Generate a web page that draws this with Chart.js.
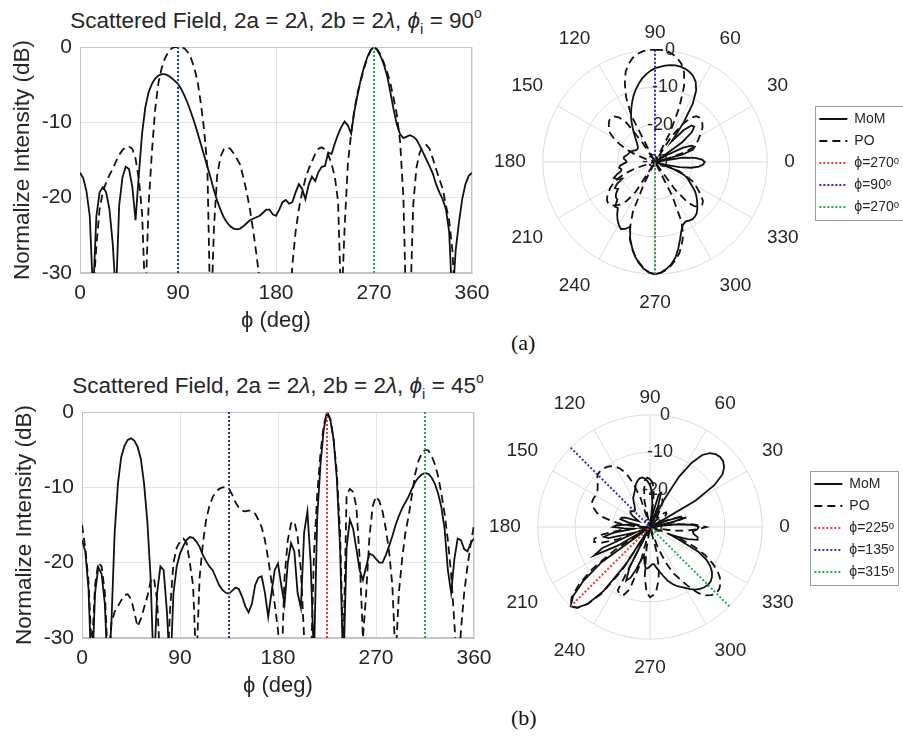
<!DOCTYPE html>
<html>
<head>
<meta charset="utf-8">
<script src="https://cdn.jsdelivr.net/npm/chart.js@4.4.1/dist/chart.umd.min.js"></script>
<style>
  html, body { margin: 0; padding: 0; background: #fff; }
  body { position: relative; width: 903px; height: 737px; overflow: hidden; font-family: "Liberation Sans", Arial, sans-serif; color: #262626; }
  canvas { position: absolute; }
  .ttl { position: absolute; left: 0; width: 552px; text-align: center; font-size: 22.5px; line-height: 26px; white-space: nowrap; }
  .ttl sub { font-size: 15px; vertical-align: -6px; line-height: 0; }
  .ttl sup { font-size: 14px; vertical-align: 10px; line-height: 0; }
  .cap { position: absolute; font-family: "Liberation Serif", "Times New Roman", serif; font-size: 22px; color: #111; }
</style>
</head>
<body>
<div class="ttl" style="top:8px">Scattered Field, 2a = 2<i>λ</i>, 2b = 2<i>λ</i>, <i>ϕ</i><sub>i</sub> = 90<sup>o</sup></div>
<canvas id="cartA" width="500" height="335" style="left:0;top:0"></canvas>
<canvas id="polA" width="440" height="304" style="left:471px;top:10px"></canvas>
<div class="cap" style="left:511px;top:330px">(a)</div>

<div class="ttl" style="top:373px;left:2px">Scattered Field, 2a = 2<i>λ</i>, 2b = 2<i>λ</i>, <i>ϕ</i><sub>i</sub> = 45<sup>o</sup></div>
<canvas id="cartB" width="500" height="335" style="left:2px;top:365px"></canvas>
<canvas id="polB" width="440" height="304" style="left:466px;top:375px"></canvas>
<div class="cap" style="left:511px;top:705px">(b)</div>

<script>
// angle grid, every 3 degrees from 0 to 360
const phiDeg = Array.from({ length: 121 }, (_, i) => i * 3);

const xTicks = [0, 90, 180, 270, 360];
const yTicks = [-30, -20, -10, 0];

// (a) incidence at 90 deg
const momA = [
  -16.7, -17.4, -19.2, -22.5, -33, -22.5, -19.3, -18.6, -19.3, -21.5,
  -26, -33, -21, -17.3, -15.9, -16.2, -18.5, -23, -17, -11.5,
  -8, -6, -4.9, -4.2, -3.8, -3.6, -3.6, -3.8, -4.1, -4.5,
  -4.9, -5.6, -6.5, -7.5, -8.7, -10, -11.4, -12.9, -14.4, -15.9,
  -17.4, -19, -20.4, -21.6, -22.6, -23.3, -23.8, -24.1, -24.2, -24.1,
  -23.8, -23.4, -23, -22.8, -22.6, -22.4, -22, -21.6, -21.6, -22.2,
  -22.4, -21.6, -20.6, -20.3, -20.8, -20.6, -19.3, -18.2, -18.8, -20.2,
  -18.3, -17.2, -17.8, -16.6, -15.9, -15.8, -14, -14.2, -12.8, -11.6,
  -10.6, -9.9, -10.4, -11.5, -8.5, -6.3, -4.2, -2.6, -1.3, -0.4,
  0, -0.4, -1.2, -2.3, -3.8, -6, -8.3, -10.3, -11.6, -12.1,
  -11.9, -11.7, -11.9, -12.3, -13.1, -14, -14.9, -15.8, -16.8, -18.2,
  -19.3, -20.2, -21.5, -24.5, -34, -27, -23.3, -20.2, -18.2, -17.1,
  -16.7
];
const poA = [
  -40, -40, -40, -40, -33, -26.5, -21.5, -19.2, -18, -17,
  -16.2, -15.2, -14.3, -13.7, -13.3, -13.2, -13.5, -14.8, -17.5, -22,
  -34, -21, -14, -8.3, -4.8, -2.8, -1.5, -0.7, -0.2, 0,
  0, 0, -0.2, -0.7, -1.5, -2.8, -4.6, -7.5, -11, -16,
  -38, -24, -17, -14.6, -13.6, -13.3, -13.5, -14.1, -14.8, -15.6,
  -17.3, -19.2, -21.5, -24.3, -27.5, -31, -36, -40, -40, -40,
  -40, -40, -40, -40, -37, -29, -24.5, -21.5, -19.3, -17.5,
  -16.2, -15.2, -14.2, -13.5, -13.3, -13.6, -14.3, -15.5, -17.2, -20.5,
  -35, -24, -15.5, -11.5, -8.3, -6, -4.4, -2.8, -1.4, -0.4,
  0, -0.3, -1, -2.1, -3.3, -4.8, -6.8, -9, -12.6, -20,
  -38, -36, -21, -16, -14, -13.2, -13, -13.5, -14.8, -16.2,
  -17.5, -18.8, -21, -23, -27, -35, -40, -40, -40, -40,
  -40
];
const incA = [270, 90, 270];

// (b) incidence at 45 deg
const momB = [
  -17, -18.5, -23.5, -36, -24, -20.6, -21.5, -25.5, -36, -28,
  -16, -9.5, -6, -4.5, -3.7, -3.5, -3.8, -4.6, -6.2, -9.5,
  -14.5, -22, -35, -24, -20.5, -21, -26.5, -35, -24, -20.5,
  -18.8, -17.8, -17, -16.6, -16.7, -17.2, -17.9, -19, -19.8, -20.5,
  -21, -22, -23, -23.6, -24, -24.1, -23.7, -23.3, -23.5, -24.5,
  -25.8, -26.6, -25.5, -23, -22, -21.8, -24, -27.2, -24, -21,
  -20.1, -23, -25.5, -20, -17.4, -18.5, -24, -26, -16, -13.2,
  -20, -33, -14, -7, -2.3, 0, -1, -3.6, -8.8, -18,
  -35, -18, -14.3, -15.5, -18.2, -21, -22.3, -20.5, -18.8, -19,
  -19.5, -20, -20, -19, -17.8, -16.5, -15, -13.8, -12.8, -12,
  -11.2, -10.2, -9.3, -8.7, -8.3, -8.1, -8.2, -8.7, -9.5, -10.8,
  -12.6, -15.5, -21, -24, -19.5, -16.8, -17, -18.2, -18.5, -17.4,
  -16.8
];
const poB = [
  -15, -18, -22.5, -32, -23, -20, -20.5, -24, -34, -28,
  -26.5, -25.8, -25, -24.3, -24.2, -24.8, -26.5, -28.5, -27.5, -26,
  -24.5, -22.5, -22, -25, -34, -40, -35, -26, -20, -18,
  -17.2, -16.8, -17.3, -20, -23, -34, -22, -17.5, -14.3, -12.5,
  -11.3, -10.6, -10.2, -10, -10, -10.2, -11, -12, -12.7, -13.1,
  -13.2, -13.1, -13.1, -13.5, -14.3, -15.3, -17, -19.5, -22.5, -25.5,
  -29, -35, -22, -17, -14.8, -14.5, -16.5, -21, -30, -40,
  -35, -19, -11, -5.5, -1.8, 0, -0.9, -3.5, -8, -16,
  -32, -11, -10.2, -10.6, -12.6, -19.5, -30, -24, -16.5, -12.5,
  -11.2, -11.8, -13.2, -15.5, -18.5, -23, -33, -24, -19.5, -16,
  -13.8, -11, -8.2, -6.5, -5.5, -5, -5.1, -5.8, -6.9, -8.5,
  -10.8, -13.5, -17, -21.5, -28, -36, -29, -24, -20.5, -17.5,
  -15
];
const incB = [225, 135, 315];

const seriesNames = ['MoM', 'PO'];
const incColors = ['#e23b3b', '#2a33b0', '#22ad48'];
const rTicks = [-30, -20, -10, 0];

Chart.defaults.font.family = '"Liberation Sans", Arial, sans-serif';
Chart.defaults.color = '#262626';

const framePlugin = {
  id: 'frame',
  beforeDatasetsDraw(chart) {
    const { ctx, chartArea: a } = chart;
    ctx.save();
    ctx.strokeStyle = '#c4c4c4';
    ctx.lineWidth = 1;
    ctx.strokeRect(a.left + 0.5, a.top + 0.5, a.right - a.left - 1, a.bottom - a.top - 1);
    ctx.restore();
  }
};

// border drawn around the legend entries only
const legendBoxPlugin = {
  id: 'legendBox',
  afterDraw(chart) {
    const boxes = chart.legend.legendHitBoxes;
    if (!boxes || !boxes.length) return;
    const left = Math.min(...boxes.map(b => b.left)) - 4;
    const top = Math.min(...boxes.map(b => b.top)) - 6;
    const bottom = Math.max(...boxes.map(b => b.top + b.height)) + 6;
    const right = Math.max(...boxes.map(b => b.left + b.width)) + 4;
    const ctx = chart.ctx;
    ctx.save();
    ctx.strokeStyle = '#9c9c9c';
    ctx.lineWidth = 1;
    ctx.strokeRect(Math.round(left) + 0.5, Math.round(top) + 0.5, Math.round(right - left), Math.round(bottom - top));
    ctx.restore();
  }
};

const incLabel = a => 'ϕ=' + a + 'ᵒ';

function cartChart(id, mom, po, inc) {
  const pts = arr => arr.map((v, i) => ({ x: phiDeg[i], y: v }));
  const incSets = inc.map((a, k) => ({
    label: incLabel(a),
    data: [{ x: a, y: -30 }, { x: a, y: 0 }],
    borderColor: incColors[k],
    borderWidth: 2,
    borderDash: [2, 2],
    order: 2 - k
  }));
  return new Chart(document.getElementById(id), {
    type: 'line',
    data: {
      datasets: [
        { label: seriesNames[0], data: pts(mom), borderColor: '#111', borderWidth: 1.8, order: 3 },
        { label: seriesNames[1], data: pts(po), borderColor: '#111', borderWidth: 1.8, borderDash: [8, 5], order: 4 },
        ...incSets
      ]
    },
    options: {
      responsive: false,
      animation: false,
      events: [],
      elements: { point: { radius: 0 }, line: { tension: 0 } },
      layout: { padding: { top: 47, right: 28, left: 0, bottom: 0 } },
      plugins: { legend: { display: false }, tooltip: { enabled: false } },
      scales: {
        x: {
          type: 'linear', min: 0, max: 360,
          afterBuildTicks: s => { s.ticks = xTicks.map(v => ({ value: v })); },
          afterFit: s => { s.height = 62; },
          ticks: { font: { size: 21 }, color: '#262626', padding: 8, maxRotation: 0 },
          grid: { color: '#e4e4e4', drawTicks: false },
          border: { color: '#c4c4c4' },
          title: { display: true, text: 'ϕ (deg)', font: { size: 22 }, color: '#262626', padding: { top: 0, bottom: 1 } }
        },
        y: {
          min: -30, max: 0,
          afterBuildTicks: s => { s.ticks = yTicks.map(v => ({ value: v })); },
          afterFit: s => { s.width = 80; },
          ticks: { font: { size: 21 }, color: '#262626', padding: 8 },
          grid: { color: '#e4e4e4', drawTicks: false },
          border: { color: '#c4c4c4' },
          title: { display: true, text: 'Normalize Intensity (dB)', font: { size: 22.5 }, color: '#262626', padding: { top: 9, bottom: 0 } }
        }
      }
    },
    plugins: [framePlugin]
  });
}

// radial tick labels sit a little right of the 90 deg spoke, as in the original
const rTickText = { '0': '      0', '-10': '    -10', '-20': '  -20', '-30': '-30' };

function polarChart(id, mom, po, inc, cx, cy) {
  // index 0 at the top (90 deg), going clockwise
  const labels = phiDeg.slice(0, 120).map((_, k) => (450 - 3 * k) % 360);
  const pick = arr => labels.map(a => Math.max(arr[a / 3], -30));
  const incSets = inc.map((a, k) => ({
    label: incLabel(a),
    data: labels.map((b, j) => (b === a ? 0 : (labels[(j + 119) % 120] === a ? -30 : null))),
    borderColor: incColors[k],
    backgroundColor: 'transparent',
    borderWidth: 2,
    borderDash: [2, 2],
    order: 2 - k
  }));
  const canvas = document.getElementById(id);
  const chart = new Chart(canvas, {
    type: 'radar',
    data: {
      labels: labels,
      datasets: [
        { label: seriesNames[0], data: pick(mom), borderColor: '#111', backgroundColor: 'transparent', borderWidth: 1.8, order: 3 },
        { label: seriesNames[1], data: pick(po), borderColor: '#111', backgroundColor: 'transparent', borderWidth: 1.8, borderDash: [8, 5], order: 4 },
        ...incSets
      ]
    },
    options: {
      responsive: false,
      animation: false,
      events: [],
      spanGaps: false,
      layout: { padding: { right: 12 } },
      elements: { point: { radius: 0 }, line: { tension: 0, fill: false } },
      plugins: {
        tooltip: { enabled: false },
        legend: {
          position: 'right',
          align: 'center',
          labels: {
            sort: (a, b) => a.datasetIndex - b.datasetIndex,
            usePointStyle: true, pointStyle: 'line', pointStyleWidth: 28, boxHeight: 12,
            font: { size: 14 }, color: '#262626', padding: 8,
            generateLabels: ch => Chart.defaults.plugins.legend.labels.generateLabels(ch).map(item => {
              const ds = ch.data.datasets[item.datasetIndex];
              return Object.assign(item, {
                lineDash: ds.borderDash || [], strokeStyle: ds.borderColor,
                lineWidth: ds.borderWidth, pointStyle: 'line'
              });
            })
          }
        }
      },
      scales: {
        r: {
          min: -30, max: 0,
          startAngle: 0,
          afterBuildTicks: s => { s.ticks = rTicks.map(v => ({ value: v })); },
          ticks: { showLabelBackdrop: false, color: '#262626', font: { size: 18 }, callback: v => rTickText[String(v)] },
          grid: { circular: true, color: '#dcdcdc' },
          angleLines: { color: '#dcdcdc', lineWidth: c => (c.index % 10 === 0 ? 1 : 0) },
          pointLabels: {
            font: { size: 19 }, color: '#262626',
            padding: c => (c.index === 0 ? -5 : 6),
            callback: l => (Number(l) % 30 === 0 ? String(l) : '')
          }
        }
      }
    },
    plugins: [legendBoxPlugin]
  });
  const r = chart.scales.r;
  canvas.style.left = Math.round(cx - r.xCenter) + 'px';
  canvas.style.top = Math.round(cy - r.yCenter) + 'px';
  return chart;
}

cartChart('cartA', momA, poA, incA);
polarChart('polA', momA, poA, incA, 655, 162);
cartChart('cartB', momB, poB, incB);
polarChart('polB', momB, poB, incB, 650, 527);
</script>
</body>
</html>
